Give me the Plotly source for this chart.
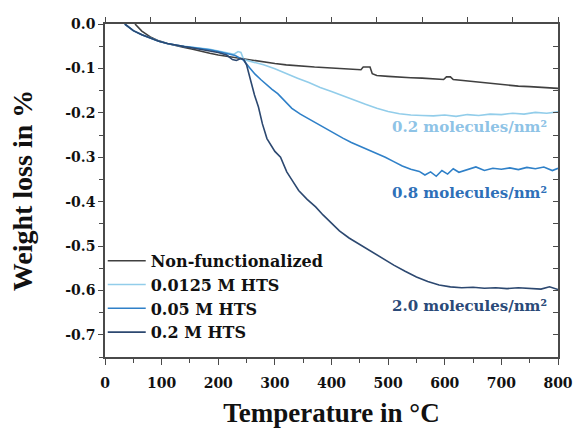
import plotly.graph_objects as go

# ---------------- data ----------------
T_nf = [53, 65, 80, 95, 110, 125, 140, 155, 170, 185,
        200, 220, 240, 260, 280, 300, 320, 345, 370, 400,
        430, 452, 456, 468, 472, 480, 500, 520, 540, 560,
        580, 598, 603, 610, 615, 630, 650, 670, 690, 710,
        730, 750, 770, 790, 800]
W_nf = [0.000, -0.016, -0.029, -0.038, -0.044, -0.049, -0.053, -0.057, -0.062, -0.066,
        -0.070, -0.074, -0.078, -0.082, -0.086, -0.089, -0.092, -0.095, -0.097, -0.099,
        -0.101, -0.103, -0.097, -0.097, -0.112, -0.116, -0.118, -0.120, -0.121, -0.122,
        -0.124, -0.125, -0.119, -0.119, -0.125, -0.127, -0.130, -0.133, -0.136, -0.138,
        -0.140, -0.141, -0.142, -0.143, -0.145]

T_lb = [35, 50, 65, 80, 95, 110, 125, 140, 155, 170,
        185, 200, 215, 228, 235, 240, 245, 260, 280, 300,
        320, 340, 360, 380, 400, 420, 440, 460, 480, 500,
        520, 540, 560, 580, 600, 620, 640, 660, 680, 700,
        720, 740, 760, 780, 800]
W_lb = [0.000, -0.015, -0.024, -0.032, -0.039, -0.044, -0.048, -0.050, -0.052, -0.054,
        -0.057, -0.061, -0.064, -0.068, -0.062, -0.064, -0.080, -0.085, -0.092, -0.101,
        -0.112, -0.122, -0.132, -0.143, -0.152, -0.162, -0.172, -0.181, -0.190, -0.197,
        -0.202, -0.205, -0.206, -0.207, -0.205, -0.208, -0.204, -0.206, -0.203, -0.204,
        -0.201, -0.203, -0.199, -0.201, -0.198]

T_mb = [35, 50, 65, 80, 95, 110, 125, 140, 155, 170,
        185, 200, 215, 230, 240, 245, 255, 265, 275, 285,
        295, 305, 315, 330, 345, 360, 375, 390, 405, 420,
        435, 450, 465, 480, 495, 510, 525, 540, 555, 565,
        575, 585, 595, 605, 615, 625, 640, 655, 670, 685,
        700, 715, 730, 745, 760, 775, 790, 800]
W_mb = [0.000, -0.015, -0.024, -0.032, -0.039, -0.044, -0.048, -0.051, -0.053, -0.055,
        -0.058, -0.062, -0.066, -0.071, -0.078, -0.082, -0.098, -0.113, -0.125, -0.137,
        -0.147, -0.157, -0.170, -0.190, -0.203, -0.214, -0.225, -0.236, -0.247, -0.257,
        -0.267, -0.275, -0.283, -0.291, -0.300, -0.310, -0.320, -0.327, -0.332, -0.340,
        -0.333, -0.343, -0.330, -0.338, -0.326, -0.334, -0.328, -0.322, -0.330, -0.325,
        -0.327, -0.324, -0.328, -0.323, -0.326, -0.322, -0.330, -0.325]

T_nv = [35, 50, 65, 80, 95, 110, 125, 140, 155, 170,
        185, 200, 215, 225, 232, 240, 245, 250, 257, 264,
        271, 278, 286, 293, 300, 310, 321, 332, 342, 357,
        372, 385, 398, 414, 431, 450, 470, 490, 510, 530,
        550, 570, 590, 610, 630, 650, 670, 690, 710, 730,
        750, 770, 785, 800]
W_nv = [0.000, -0.015, -0.024, -0.032, -0.039, -0.044, -0.048, -0.051, -0.054, -0.057,
        -0.060, -0.064, -0.070, -0.080, -0.082, -0.078, -0.080, -0.092, -0.126, -0.160,
        -0.187, -0.225, -0.258, -0.274, -0.287, -0.300, -0.333, -0.355, -0.375, -0.395,
        -0.412, -0.430, -0.447, -0.466, -0.482, -0.497, -0.512, -0.528, -0.543, -0.557,
        -0.570, -0.580, -0.588, -0.592, -0.594, -0.593, -0.595, -0.594, -0.596, -0.594,
        -0.595, -0.597, -0.592, -0.598]

series_names = ["Non-functionalized", "0.0125 M HTS", "0.05 M HTS", "0.2 M HTS"]
series_T = [T_nf, T_lb, T_mb, T_nv]
series_W = [W_nf, W_lb, W_mb, W_nv]
series_colors = ["#404040", "#92cdea", "#2f80c8", "#2c4870"]

label_texts = ["0.2 molecules/nm²", "0.8 molecules/nm²", "2.0 molecules/nm²"]
label_y = [-0.2325, -0.381, -0.634]
label_colors = ["#8ec3e6", "#2e70b8", "#2a4a78"]

x_tick_vals = [0, 100, 200, 300, 400, 500, 600, 700, 800]
x_tick_text = ["0", "100", "200", "300", "400", "500", "600", "700", "800"]
y_tick_vals = [0.0, -0.1, -0.2, -0.3, -0.4, -0.5, -0.6, -0.7]
y_tick_text = ["0.0", "-0.1", "-0.2", "-0.3", "-0.4", "-0.5", "-0.6", "-0.7"]
top_tick_vals = [0, 80, 160, 240, 320, 400, 480, 560, 640, 720, 800]

for t, w in zip(series_T, series_W):
    assert len(t) == len(w)

# ---------------- figure ----------------
AX = "#4a4a4a"
TXT = "#111111"
small_font = dict(family="DejaVu Serif", size=14, color=TXT, weight="bold")

fig = go.Figure()

# invisible trace to carry the mirrored (top/right) frame axes
fig.add_trace(go.Scatter(x=T_nf, y=W_nf, xaxis="x2", yaxis="y2", mode="lines",
                         line=dict(width=0), opacity=0, showlegend=False,
                         hoverinfo="skip"))

for name, t, w, c in zip(series_names, series_T, series_W, series_colors):
    fig.add_trace(go.Scatter(x=t, y=w, mode="lines", name=name,
                             line=dict(color=c, width=1.6)))

for txt, yv, c in zip(label_texts, label_y, label_colors):
    fig.add_annotation(x=0.98, xref="paper", y=yv, yref="y", text=txt,
                       showarrow=False, xanchor="right", yanchor="middle",
                       font=dict(family="DejaVu Serif", size=15, color=c, weight="bold"))

fig.update_layout(
    width=574, height=428,
    margin=dict(l=105, r=16, t=24, b=71, autoexpand=False),
    paper_bgcolor="white", plot_bgcolor="white",
    showlegend=True,
    legend=dict(x=-0.005, y=0.34, xanchor="left", yanchor="top", itemwidth=38,
                bgcolor="rgba(0,0,0,0)", borderwidth=0,
                font=dict(family="DejaVu Serif", size=16, color=TXT, weight="bold")),
    xaxis=dict(range=[0, 800], tickvals=x_tick_vals, ticktext=x_tick_text,
               automargin=False,
               showline=True, linecolor=AX, linewidth=1.6, mirror=False,
               ticks="outside", ticklen=6, tickwidth=1.3, tickcolor=AX,
               minor=dict(dtick=50, ticks="outside", ticklen=4, tickcolor=AX, tickwidth=1.2),
               showgrid=False, zeroline=False, tickfont=small_font,
               ticklabelstandoff=6,
               title=dict(text="Temperature in °C", standoff=17,
                          font=dict(family="Liberation Serif", size=27, color=TXT, weight="bold"))),
    yaxis=dict(range=[-0.75, 0], tickvals=y_tick_vals, ticktext=y_tick_text,
               automargin=False,
               showline=True, linecolor=AX, linewidth=1.6, mirror=False,
               ticks="outside", ticklen=5, tickwidth=1.3, tickcolor=AX,
               minor=dict(dtick=0.05, tick0=0, ticks="outside", ticklen=4, tickcolor=AX, tickwidth=1.2),
               showgrid=False, zeroline=False, tickfont=small_font,
               title=dict(text="Weight loss in %", standoff=24,
                          font=dict(family="Liberation Serif", size=28, color=TXT, weight="bold"))),
    xaxis2=dict(range=[0, 800], overlaying="x", side="top", tickvals=top_tick_vals,
                automargin=False,
                showticklabels=False, showline=True, linecolor=AX, linewidth=1.6,
                ticks="outside", ticklen=5, tickwidth=1.3, tickcolor=AX,
                showgrid=False, zeroline=False),
    yaxis2=dict(range=[-0.75, 0], overlaying="y", side="right", dtick=0.05, tick0=0,
                automargin=False,
                showticklabels=False, showline=True, linecolor=AX, linewidth=1.6,
                ticks="inside", ticklen=5, tickwidth=1.3, tickcolor=AX,
                showgrid=False, zeroline=False),
)

fig.write_html("out.html")
